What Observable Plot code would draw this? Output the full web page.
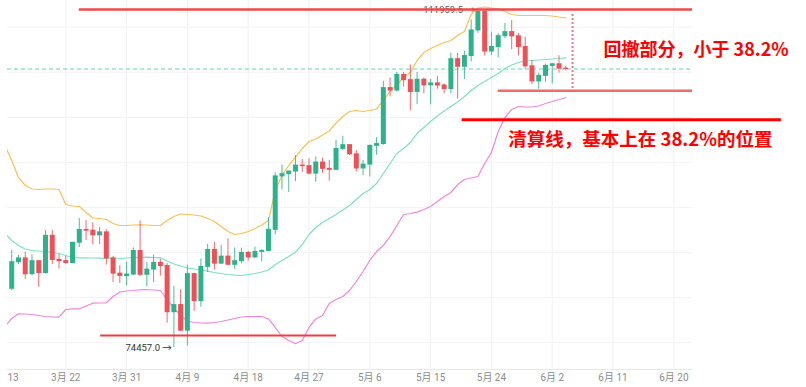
<!DOCTYPE html>
<html>
<head>
<meta charset="utf-8">
<script src="https://cdn.jsdelivr.net/npm/d3@7"></script>
<script src="https://cdn.jsdelivr.net/npm/@observablehq/plot@0.6"></script>
<style>
  body { margin: 0; background: #fff; }
  #chart svg { display: block; }
</style>
</head>
<body>
<div id="chart"></div>
<script>
// ---- Daily candles, 2025-03-14 .. 2025-06-04 ----
const firstCandleDate = "2025-03-14";
const open = [80970,83920,84340,82580,84030,82720,86850,84170,84040,83830,86080,87500,87420,86900,87230,84350,82650,82380,82550,85160,82520,83100,83840,83500,78370,79160,76320,82600,79600,83400,85280,83760,84540,83630,84030,84940,84450,85060,85170,87510,93440,93690,93980,94640,94580,93750,94980,94280,94170,96490,96910,95890,94320,94750,96830,97030,103240,102970,104700,104120,102810,104170,103540,103760,103520,103130,106450,105600,106800,109640,111700,107300,107800,109000,109450,108980,107800,105650,103980,104600,105700,105880,105400];
const high = [85250,84670,85050,84730,84080,87450,87450,84780,84560,86100,88770,88540,88290,87790,87520,84570,83530,83940,85500,88500,83920,84720,84230,83780,81240,80870,83590,82700,84280,85900,86100,85800,86500,85500,85470,85120,85600,85300,88850,93820,94700,94000,95760,95300,95370,95600,95460,95230,97440,97900,96940,96330,95200,96920,97730,104000,104360,104980,104970,105800,104980,104350,104200,104550,103720,107110,107100,107320,110800,111959.5,111800,109450,109300,110400,110720,109300,108900,106300,104900,105900,105950,106830,105650];
const low = [80750,83640,81980,82460,81130,82600,83650,83180,83650,83790,85550,86320,85850,85860,83600,81650,81560,81280,82430,82320,81190,81660,82370,77150,74457,76240,74620,78460,78940,82770,83030,83680,83600,83110,83740,84040,84350,83950,85100,86950,91930,91660,92860,93870,93600,92800,93780,92910,94130,96330,95750,93950,93510,93380,95800,96900,102260,102800,103350,100720,101430,102600,101380,103100,102600,102600,102000,104180,106130,109300,106800,106860,106600,108700,107500,106800,105350,103620,103100,103880,103700,104900,105150];
const close = [83920,84340,82580,84030,82720,86850,84170,84040,83830,86080,87500,87420,86900,87230,84350,82650,82380,82550,85160,82520,83100,83840,83500,78370,79160,76320,82600,79600,83400,85280,83760,84540,83630,84030,84940,84450,85060,85170,87510,93440,93690,93980,94640,94580,93750,94980,94280,94170,96490,96910,95890,94320,94750,96830,97030,103240,102970,104700,104120,102810,104170,103540,103760,103520,103130,106450,105600,106800,109640,111700,107300,107800,109000,109450,108980,107800,105650,103980,104600,105700,105880,105400,105360];

// ---- Bollinger bands, 2025-03-13 .. 2025-06-04 ----
const firstBandDate = "2025-03-13";
const bbUpper = [96870,95205,93320,92430,92040,91985,92040,92040,91985,90320,90155,90100,89435,88825,88770,88660,88215,87990,87990,88050,88070,88050,87990,87990,88545,88990,89270,89210,89155,89045,88770,88435,87880,87325,86995,87105,87325,87660,88050,88545,91875,93540,94650,95570,96535,97315,97590,98035,98480,99365,100085,100640,100750,100640,100750,100920,101860,102860,103580,104415,105000,106300,107190,107630,107965,108300,108520,109075,109520,111405,112125,112235,112125,112015,111740,111405,111295,111295,111295,111295,111295,111240,111125,111040];
const bbMiddle = [87105,86330,85775,85385,85220,85165,85105,84995,84885,84665,84440,84410,84410,84385,84365,84330,84300,84330,84385,84440,84465,84475,84440,84410,84055,83720,83500,83275,83165,83055,82920,82775,82665,82555,82480,82445,82555,82665,82830,83055,83665,84110,84550,85030,85885,86995,87770,88325,88770,89210,89710,90210,90875,91545,91985,92650,93760,94870,95980,96535,97200,98200,98865,99530,100140,100695,101195,101695,102305,102970,103525,103970,104415,104860,105415,105800,106080,106245,106300,106355,106410,106465,106520,106600];
const bbLower = [76785,77675,78195,78170,78115,78005,77895,77840,77815,78670,78750,78750,79060,79370,79395,79415,80115,80615,80725,80780,80860,80890,80835,80780,79780,78840,78005,77395,77230,77175,77150,77230,77340,77505,77675,77840,77895,77895,77895,77620,76675,75675,75230,74865,75230,76675,77620,78005,79335,79780,80115,80780,81780,82890,84110,85105,85775,86770,87990,89210,89325,89470,89765,90100,90655,91210,91655,92540,93095,93265,93430,94870,96090,98420,99975,100865,101195,101140,101140,101250,101530,101750,101975,102170];

// ---- Axis ----
const tickDates = ["2025-03-22","2025-03-31","2025-04-09","2025-04-18","2025-04-27","2025-05-06","2025-05-15","2025-05-24","2025-06-02","2025-06-11","2025-06-20"];
const tickLabels = ["3月 22","3月 31","4月 9","4月 18","4月 27","5月 6","5月 15","5月 24","6月 2","6月 11","6月 20"];
const firstTickDate = "2025-03-13";
const firstTickLabel = "13";
const priceGrid = [75000,80000,85000,90000,95000,100000,105000,110000];
const xDomain = ["2025-03-13T09:00Z","2025-06-22T18:15Z"];
const yDomain = [72014, 112958];

// ---- Annotations ----
const lastPrice = 105357;
const athPrice = 111959.5, athDate = "2025-05-22";
const lowPrice = 74457.0, lowDate = "2025-04-07";
const topLine = {from: "2025-03-24", price: 111959.5};
const retraceLine = {from: "2025-05-25", price: 102940};
const liquidationLine = {from: "2025-05-19T16:00Z", to: "2025-07-05T22:00Z", price: 99720};
const supportLine = {from: "2025-03-27T04:00Z", to: "2025-05-01T02:00Z", price: 75790};
const retraceSpan = {date: "2025-06-05", top: 111405, bottom: 103190};
const note1 = {date: "2025-06-09T14:00Z", price: 107410, text: "回撤部分，小于 38.2%"};
const note2 = {date: "2025-05-26T12:00Z", price: 97424, text: "清算线，基本上在 38.2%的位置"};

// ---- Build tables ----
const D = s => new Date(s.length === 10 ? s + "T00:00Z" : s);
const candleDates = d3.utcDay.range(D(firstCandleDate), d3.utcDay.offset(D(firstCandleDate), open.length));
const candles = candleDates.map((date, i) => ({date, open: open[i], high: high[i], low: low[i], close: close[i]}));
const bandDates = d3.utcDay.range(D(firstBandDate), d3.utcDay.offset(D(firstBandDate), bbUpper.length));
const bands = bandDates.map((date, i) => ({date, upper: bbUpper[i], middle: bbMiddle[i], lower: bbLower[i]}));
const labelMap = new Map(tickDates.map((t, i) => [+D(t), tickLabels[i]]));

const UP = "#2db38c", DOWN = "#ef5058";
const col = d => d.close >= d.open ? UP : DOWN;
const xEnd = D(xDomain[1]);

const chart = Plot.plot({
  width: 806,
  height: 387,
  marginLeft: 7,
  marginRight: 114,
  marginTop: 0,
  marginBottom: 18,
  style: {fontFamily: "Roboto, 'Noto Sans CJK SC', sans-serif", background: "#fff"},
  x: {type: "utc", domain: xDomain.map(D), axis: null},
  y: {domain: yDomain, axis: null},
  marks: [
    Plot.gridX(tickDates.map(D), {stroke: "#f1f1f1", strokeOpacity: 1}),
    Plot.ruleY(priceGrid, {stroke: "#f3f3f3"}),
    Plot.ruleY([yDomain[0]], {stroke: "#e8e8e8"}),
    Plot.axisX(tickDates.map(D), {tickSize: 0, tickPadding: 4, fontSize: 10, color: "#8c8c8c",
      tickFormat: d => labelMap.get(+d), label: null}),
    Plot.text([firstTickLabel], {x: () => D(firstTickDate), y: () => yDomain[0], dx: 2.5, dy: 8,
      textAnchor: "start", fontSize: 10, fill: "#8c8c8c"}),
    Plot.ruleY([lastPrice], {stroke: "#62d4b4", strokeDasharray: "4,3"}),
    Plot.line(bands, {x: "date", y: "upper", stroke: "#f8c255", strokeWidth: 1.2, clip: true}),
    Plot.line(bands, {x: "date", y: "middle", stroke: "#7ddfc8", strokeWidth: 1.2, clip: true}),
    Plot.line(bands, {x: "date", y: "lower", stroke: "#ef86dc", strokeWidth: 1.2, clip: true}),
    Plot.ruleX(candles, {x: "date", y1: "low", y2: "high", stroke: col, strokeWidth: 1, strokeOpacity: 0.85}),
    Plot.ruleX(candles, {x: "date", y1: d => Math.max(d.open, d.close), y2: d => Math.min(d.open, d.close),
      stroke: col, strokeWidth: 5, insetTop: -0.5, insetBottom: -0.5}),
    // price labels
    Plot.text([`${athPrice.toFixed(1)} →`], {x: () => D(athDate), y: () => athPrice, dx: -3, textAnchor: "end",
      fontSize: 9.5, fill: "#555"}),
    Plot.text([`${lowPrice.toFixed(1)} →`], {x: () => D(lowDate), y: () => lowPrice, dx: -2, textAnchor: "end",
      fontSize: 9.5, fill: "#333"}),
    // annotation lines
    Plot.ruleY([topLine], {y: "price", x1: d => D(d.from), x2: () => xEnd, stroke: "#f04848", strokeWidth: 2.5}),
    Plot.ruleY([retraceLine], {y: "price", x1: d => D(d.from), x2: () => xEnd, stroke: "#f26a6a", strokeWidth: 2.5}),
    Plot.ruleY([liquidationLine], {y: "price", x1: d => D(d.from), x2: d => D(d.to), stroke: "#ff0000", strokeWidth: 3}),
    Plot.ruleY([supportLine], {y: "price", x1: d => D(d.from), x2: d => D(d.to), stroke: "#f03c3c", strokeWidth: 2}),
    Plot.ruleX([retraceSpan], {x: d => D(d.date), y1: "top", y2: "bottom", stroke: "#f27c7c", strokeWidth: 2, strokeDasharray: "2,2"}),
    Plot.text([note1], {x: d => D(d.date), y: "price", text: "text", textAnchor: "start", fontSize: 18,
      fontWeight: "bold", fill: "#ff0000", fontFamily: "'Noto Sans CJK SC', sans-serif"}),
    Plot.text([note2], {x: d => D(d.date), y: "price", text: "text", textAnchor: "start", fontSize: 18.5,
      fontWeight: "bold", fill: "#ff0000", fontFamily: "'Noto Sans CJK SC', sans-serif"})
  ]
});
document.getElementById("chart").append(chart);
</script>
</body>
</html>
